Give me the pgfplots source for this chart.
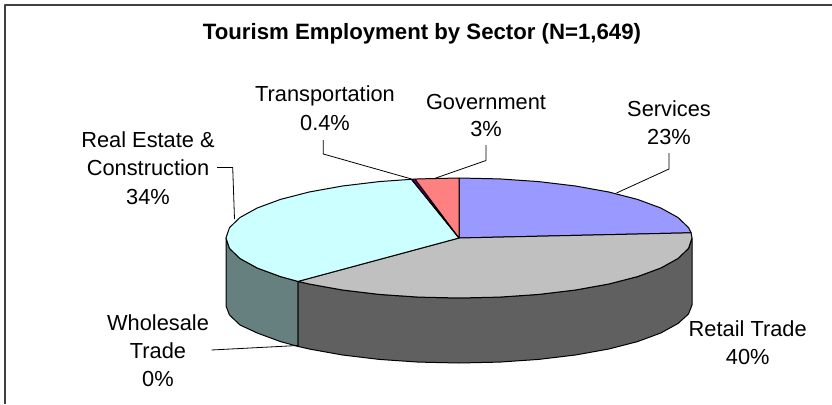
\documentclass[border=0pt]{standalone}
\usepackage{fontspec}
\setmainfont{Liberation Sans}
\usepackage{pgfplots}
\pgfplotsset{compat=1.18}
\definecolor{cBlue}{HTML}{9999FF}
\definecolor{cGrey}{HTML}{C0C0C0}
\definecolor{cDark}{HTML}{606060}
\definecolor{cCyan}{HTML}{CCFFFF}
\definecolor{cTeal}{HTML}{668080}
\definecolor{cRed}{HTML}{FF8080}
\definecolor{cPurple}{HTML}{660066}
\begin{document}
\begin{tikzpicture}[x=1pt,y=1pt]
\useasboundingbox (0,0) rectangle (832pt,404pt);
\begin{axis}[
  at={(0,0)},anchor=south west,
  width=832pt,height=404pt,scale only axis,
  xmin=0,xmax=832,ymin=0,ymax=404,y dir=reverse,
  axis lines=none,clip=false,
  every axis plot/.append style={line join=round},
]
% frame
\addplot[draw=black!75,line width=1.4pt] coordinates {(5,404)(5,5)(832,5)};
% Real Estate side (teal)
\addplot[fill=cTeal,draw=black,line width=1pt] coordinates {(226,238)(229.5,248.4)(240,258.5)(257.2,268)(280.5,276.6)(298,281.4)(298,346.4)(280.5,341.6)(257.2,333)(240,325)(229.5,315)(226,306)} -- cycle;
% Retail side (dark)
\addplot[fill=cDark,draw=black,line width=1pt] coordinates {(298,281.4)(309.2,284)(342.5,290)(379.3,294.4)(418.5,297.1)(459,298)(499.5,297.1)(538.7,294.4)(575.5,290)(608.8,284)(637.5,276.6)(660.8,268)(678,258.5)(688.5,248.4)(692,238)(692,305)(688.5,314)(678,323.5)(660.8,333)(637.5,341.6)(608.8,349)(575.5,355)(538.7,359.4)(499.5,362.1)(459,363)(418.5,362.1)(379.3,359.4)(342.5,355)(309.2,349)(298,346.4)} -- cycle;
% Services
\addplot[fill=cBlue,draw=black,line width=1pt] coordinates {(459,238)(691.1,232.8)(688.5,227.6)(678,217.5)(660.8,208)(637.5,199.4)(608.8,192)(575.5,186)(538.7,181.6)(499.5,178.9)(459,178)} -- cycle;
% Retail Trade
\addplot[fill=cGrey,draw=black,line width=1pt] coordinates {(459,238)(298,281.4)(309.2,284)(342.5,290)(379.3,294.4)(418.5,297.1)(459,298)(499.5,297.1)(538.7,294.4)(575.5,290)(608.8,284)(637.5,276.6)(660.8,268)(678,258.5)(688.5,248.4)(692,238)(691.1,232.8)} -- cycle;
% Real Estate & Construction
\addplot[fill=cCyan,draw=black,line width=1pt] coordinates {(459,238)(411.5,179.3)(379.3,181.6)(342.5,186)(309.2,192)(280.5,199.4)(257.2,208)(240,217.5)(229.5,227.6)(226,238)(229.5,248.4)(240,258.5)(257.2,268)(280.5,276.6)(298,281.4)} -- cycle;
% Transportation
\addplot[fill=cPurple,draw=black,line width=1pt] coordinates {(459,238)(415,179.1)(411.5,179.3)} -- cycle;
% Government
\addplot[fill=cRed,draw=black,line width=1pt] coordinates {(459,238)(459,178)(418.5,178.9)(415,179.1)} -- cycle;
% leader lines
\addplot[draw=black,line width=0.8pt] coordinates {(217,167.5)(232.7,167.5)(234.5,219)};
\addplot[draw=black,line width=0.8pt] coordinates {(211.5,350)(298,345.5)};
\addplot[draw=black,line width=0.8pt] coordinates {(486,145)(486,160.5)(435,178.3)};
\addplot[draw=black,line width=0.8pt] coordinates {(669,153)(669,169)(616.5,193)};
\addplot[draw=black,line width=0.8pt] coordinates {(323.3,140)(323.3,154)(411.5,179)};
% texts
\node[anchor=base,font=\fontsize{22.2pt}{24pt}\selectfont\bfseries] at (axis cs:422,40) {Tourism Employment by Sector (N=1,649)};
\node[anchor=base,font=\fontsize{21.8pt}{24pt}\selectfont] at (axis cs:148,147) {Real Estate \&};
\node[anchor=base,font=\fontsize{21.8pt}{24pt}\selectfont] at (axis cs:148,175.5) {Construction};
\node[anchor=base,font=\fontsize{21.8pt}{24pt}\selectfont] at (axis cs:148,204) {34\%};
\node[anchor=base,font=\fontsize{21.8pt}{24pt}\selectfont] at (axis cs:325,101.7) {Transportation};
\node[anchor=base,font=\fontsize{21.8pt}{24pt}\selectfont] at (axis cs:325,130) {0.4\%};
\node[anchor=base,font=\fontsize{21.8pt}{24pt}\selectfont] at (axis cs:486,109) {Government};
\node[anchor=base,font=\fontsize{21.8pt}{24pt}\selectfont] at (axis cs:486,136.7) {3\%};
\node[anchor=base,font=\fontsize{21.8pt}{24pt}\selectfont] at (axis cs:669,116.7) {Services};
\node[anchor=base,font=\fontsize{21.8pt}{24pt}\selectfont] at (axis cs:669,144) {23\%};
\node[anchor=base,font=\fontsize{21.8pt}{24pt}\selectfont] at (axis cs:158,330.7) {Wholesale};
\node[anchor=base,font=\fontsize{21.8pt}{24pt}\selectfont] at (axis cs:158,358) {Trade};
\node[anchor=base,font=\fontsize{21.8pt}{24pt}\selectfont] at (axis cs:158,386) {0\%};
\node[anchor=base,font=\fontsize{21.8pt}{24pt}\selectfont] at (axis cs:747.7,336.7) {Retail Trade};
\node[anchor=base,font=\fontsize{21.8pt}{24pt}\selectfont] at (axis cs:747.7,364) {40\%};
\end{axis}
\end{tikzpicture}
\end{document}
